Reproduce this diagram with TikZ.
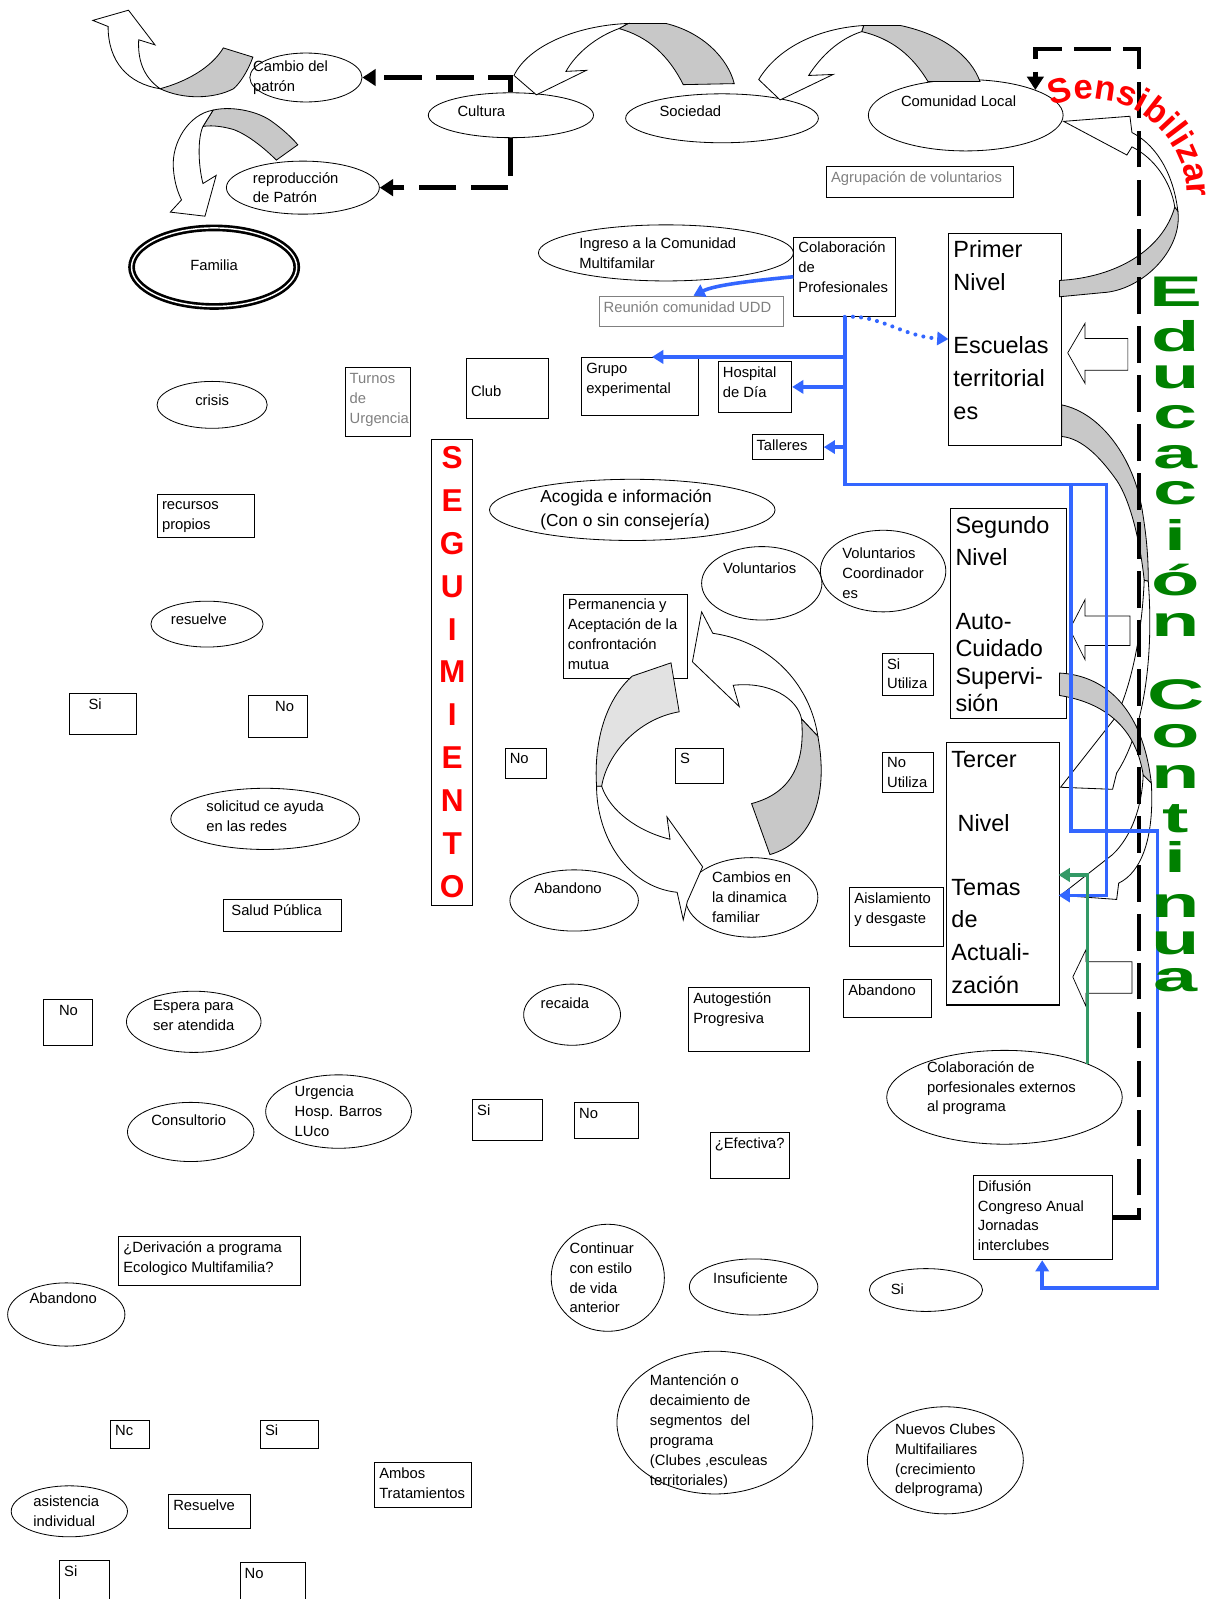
\documentclass[tikz,border=0pt]{standalone}
\usepackage{fontspec}
\usepackage{graphicx}
\setmainfont{Liberation Sans}
\usetikzlibrary{
  arrows.meta,
  calc,
  decorations.text,
  shapes.geometric,
}
\definecolor{azul}{RGB}{51,102,255}
\definecolor{verdeflecha}{RGB}{51,153,102}
\definecolor{verdeedu}{RGB}{0,128,0}
\definecolor{grisbanda}{RGB}{200,200,200}
\definecolor{grisclaro}{RGB}{226,226,226}
\definecolor{gristexto}{RGB}{128,128,128}
\newcommand{\txtfont}{\fontsize{14.5}{19.5}\selectfont}
\newcommand{\lvlfont}{\fontsize{23}{32}\selectfont}
\newcommand{\acofont}{\fontsize{17}{23}\selectfont}
\newcommand{\segfont}{\fontsize{31}{42}\selectfont\bfseries}
\newcommand{\edufont}{\fontsize{42}{42}\selectfont\bfseries}
\newcommand{\sensfont}{\fontsize{34}{34}\selectfont\bfseries}
\tikzset{
  box/.style={draw, rectangle, line width=0.8pt, inner sep=2pt, anchor=north west, font=\txtfont},
  fixsize/.style 2 args={
    execute at begin node={\begin{minipage}[c][#2pt][t]{#1pt}\raggedright\leftskip=2.5pt\strut},
    execute at end node={\end{minipage}},
  },
  level/.style={box, line width=1pt, font=\lvlfont},
  oval/.style={draw, ellipse, line width=0.8pt, inner sep=0pt},
  txt/.style={font=\txtfont, align=left, inner sep=0pt},
  dashline/.style={line width=5pt, dash pattern=on 37pt off 14pt, -{Triangle[length=13pt,width=16pt]}},
  blueline/.style={azul, line width=3.5pt, -{Triangle[length=11pt,width=13pt]}},
  greenline/.style={verdeflecha, line width=3pt, -{Triangle[length=11pt,width=13pt]}},
  ribbon/.style={draw=black, line width=0.8pt, fill=white},
  ribbongray/.style={ribbon, fill=grisbanda},
  blockarrow/.style={draw=black, line width=0.7pt, fill=white},
  letteredu/.style={text=verdeedu, font=\edufont, anchor=base, inner sep=0pt},
}
\begin{document}
\begin{tikzpicture}[x=1pt, y=-1pt]
\fill[white] (0,0) rectangle (1189,1568);
\useasboundingbox (0,0) rectangle (1189,1568);

\node[oval, minimum width=110pt, minimum height=48pt, label={[txt,xshift=-15pt]center:{Cambio del\\patrón}}] (cambio) at (300,76) {};
\node[oval, minimum width=162pt, minimum height=44pt, label={[txt,xshift=-29pt,yshift=4pt]center:Cultura}] (cultura) at (501,113) {};
\node[oval, minimum width=189pt, minimum height=48pt, label={[txt,xshift=-31pt,yshift=7pt]center:Sociedad}] (sociedad) at (708,116) {};
\node[oval, minimum width=191pt, minimum height=70pt, label={[txt,xshift=-7pt,yshift=14pt]center:Comunidad Local}] (comunidad) at (947,113) {};
\node[oval, minimum width=150pt, minimum height=52pt, label={[txt,xshift=-7pt]center:{reproducción\\de Patrón}}] (reprod) at (297,184) {};
\node[oval, minimum width=162pt, minimum height=77pt, line width=2.6pt, double, double distance=1.4pt, label={[txt,yshift=2pt]center:Familia}] (familia) at (210,262) {};
\node[oval, minimum width=250pt, minimum height=55pt, label={[txt,xshift=-8pt]center:{Ingreso a la Comunidad\\Multifamilar}}] (ingreso) at (653,248) {};
\node[oval, minimum width=108pt, minimum height=46pt, label={[txt,yshift=5pt]center:crisis}] (crisis) at (208,397) {};
\node[oval, minimum width=110pt, minimum height=45pt, label={[txt,xshift=-8pt,yshift=5pt]center:resuelve}] (resuelve) at (203,612) {};
\node[oval, minimum width=185pt, minimum height=60pt, label={[txt,yshift=3pt]center:{solicitud ce ayuda\\en las redes}}] (solicitud) at (260,803) {};
\node[oval, minimum width=132pt, minimum height=60pt, label={[txt,yshift=6pt]center:{Espera para\\ser atendida}}] (espera) at (190,1002) {};
\node[oval, minimum width=124pt, minimum height=58pt, label={[txt,xshift=-2pt,yshift=12pt]center:Consultorio}] (consultorio) at (187,1110) {};
\node[oval, minimum width=143pt, minimum height=72pt, label={[txt]center:{Urgencia\\Hosp. Barros\\LUco}}] (urgencia) at (332,1090) {};
\node[oval, minimum width=115pt, minimum height=62pt, label={[txt,xshift=-3pt,yshift=16pt]center:Abandono}] (abandono1) at (65,1289) {};
\node[oval, minimum width=114pt, minimum height=50pt, label={[txt,xshift=-3pt]center:{asistencia\\individual}}] (asistencia) at (68,1482) {};
\node[oval, minimum width=280pt, minimum height=60pt, label={[txt,font=\acofont,xshift=-6pt]center:{Acogida e información\\(Con o sin consejería)}}] (acogida) at (620,500) {};
\node[oval, minimum width=118pt, minimum height=72pt, label={[txt,xshift=-2pt,yshift=15pt]center:Voluntarios}] (voluntarios) at (747,572) {};
\node[oval, minimum width=123pt, minimum height=80pt, label={[txt,yshift=-2pt]center:{Voluntarios\\Coordinador\\es}}] (coordinadores) at (866,560) {};
\node[oval, minimum width=126pt, minimum height=60pt, label={[txt,xshift=-6pt,yshift=12pt]center:Abandono}] (abandono2) at (563,883) {};
\node[oval, minimum width=130pt, minimum height=78pt, label={[txt]center:{Cambios en\\la dinamica\\familiar}}] (cambios) at (737,880) {};
\node[oval, minimum width=95pt, minimum height=60pt, label={[txt,xshift=-7pt,yshift=11pt]center:recaida}] (recaida) at (561,995) {};
\node[oval, minimum width=111pt, minimum height=105pt, label={[txt,xshift=-6pt]center:{Continuar\\con estilo\\de vida\\anterior}}] (continuar) at (596,1253) {};
\node[oval, minimum width=126pt, minimum height=55pt, label={[txt,xshift=-3pt,yshift=9pt]center:Insuficiente}] (insuficiente) at (739,1262) {};
\node[oval, minimum width=111pt, minimum height=42pt, label={[txt,xshift=-28pt,yshift=1pt]center:Si}] (sielipse) at (908,1265) {};
\node[oval, minimum width=231pt, minimum height=92pt, label={[txt,xshift=-3pt,yshift=9pt]center:{Colaboración de\\porfesionales externos\\al programa}}] (colabext) at (985,1076) {};
\node[oval, minimum width=192pt, minimum height=140pt, label={[txt,xshift=-6pt,yshift=-9pt]center:{Mantención o\\decaimiento de\\segmentos\ \ del\\programa\\(Clubes ,esculeas\\territoriales)}}] (mantencion) at (701,1395) {};
\node[oval, minimum width=153pt, minimum height=105pt, label={[txt]center:{Nuevos Clubes\\Multifailiares\\(crecimiento\\delprograma)}}] (nuevos) at (927,1432) {};

\node[box, fixsize={179}{26}, text=gristexto] (agrupacion) at (810,163) {Agrupación de voluntarios};
\node[box, fixsize={96}{74}] (colab) at (778,232) {Colaboración\\de\\Profesionales};
\node[box, fixsize={177}{26}, draw=gristexto, text=gristexto] (reunion) at (587,290) {Reunión comunidad UDD};
\node[level, fixsize={106}{204}] (primer) at (930,228) {Primer\\Nivel\\[30pt]Escuelas\\territorial\\es};
\node[box, fixsize={110}{53}] (grupo) at (570,350) {Grupo\\experimental};
\node[box, fixsize={68}{46}] (hospital) at (704,354) {Hospital\\de Día};
\node[box, fixsize={66}{20}] (talleres) at (737,426) {Talleres};
\node[box, fixsize={76}{55}] (club) at (457,351) {\\[2pt]Club};
\node[box, fixsize={60}{64}, text=gristexto] (turnos) at (338,360) {Turnos\\de\\Urgencia};
\node[draw, rectangle, line width=0.9pt, anchor=north west, minimum width=40pt, minimum height=457pt, inner sep=0pt, align=center, text=red, font=\segfont] (seguimiento) at (423,430) {S\\E\\G\\U\\I\\M\\I\\E\\N\\T\\O};
\node[box, fixsize={91}{39}] (recursos) at (154,484) {recursos\\propios};
\node[box, fixsize={61}{36}] (si1) at (68,680) {\hspace*{14pt}Si};
\node[box, fixsize={54}{37}] (no1) at (243,682) {\hspace*{22pt}No};
\node[box, fixsize={111}{27}] (salud) at (219,882) {\hspace*{3pt}Salud Pública};
\node[box, fixsize={44}{41}] (no2) at (42,980) {\hspace*{11pt}No};
\node[box, fixsize={174}{44}] (derivacion) at (116,1212) {¿Derivación a programa\\Ecologico Multifamilia?};
\node[box, fixsize={34}{24}] (nc) at (108,1392) {Nc};
\node[box, fixsize={53}{24}] (si2) at (255,1392) {Si};
\node[box, fixsize={91}{40}] (ambos) at (367,1434) {Ambos\\Tratamientos};
\node[box, fixsize={76}{29}] (resuelve2) at (165,1465) {Resuelve};
\node[box, fixsize={45}{34}] (si3) at (58,1530) {Si};
\node[box, fixsize={60}{32}] (no3) at (235,1532) {No};
\node[box, fixsize={118}{79}] (permanencia) at (552,582) {Permanencia y\\Aceptación de la\\confrontación\\mutua};
\node[box, fixsize={36}{26}] (nocentro) at (495,733) {No};
\node[box, fixsize={43}{31}] (scentro) at (662,733) {S};
\node[box, fixsize={46}{38}] (siutiliza) at (865,640) {Si\\Utiliza};
\node[box, fixsize={46}{36}] (noutiliza) at (865,737) {No\\Utiliza};
\node[level, fixsize={109}{202}] (segundo) at (932,498) {Segundo\\Nivel\\[30pt]Auto-\\[-5pt]Cuidado\\[-5pt]Supervi-\\[-5pt]sión};
\node[level, fixsize={106}{253}] (tercer) at (928,728) {Tercer\\[30pt]\hspace*{6pt}Nivel\\[31pt]Temas\\de\\Actuali-\\zación};
\node[box, fixsize={88}{54}] (aislamiento) at (833,870) {Aislamiento\\y desgaste};
\node[box, fixsize={82}{33}] (abandono3) at (827,960) {Abandono};
\node[box, fixsize={114}{59}] (autogestion) at (675,968) {Autogestión\\Progresiva};
\node[box, fixsize={64}{36}] (si4) at (463,1078) {Si};
\node[box, fixsize={59}{31}] (no4) at (563,1081) {No};
\node[box, fixsize={74}{41}] (efectiva) at (696,1110) {¿Efectiva?};
\node[box, fixsize={132}{79}] (difusion) at (954,1152) {Difusión\\Congreso Anual\\Jornadas\\interclubes};

\filldraw[ribbongray] (157,87) .. controls (190,78) and (210,62) .. (219,47) -- (248,56) .. controls (243,70) and (235,82) .. (229,87) .. controls (210,97) and (180,98) .. (157,87) -- cycle;
\filldraw[ribbon] (91,20) -- (126,10) -- (152,44) -- (136,39) .. controls (135,58) and (140,75) .. (157,87) .. controls (125,82) and (106,60) .. (106,26) -- cycle;
\filldraw[ribbongray] (199,124) -- (209,108) .. controls (225,104) and (250,108) .. (265,118) .. controls (278,127) and (288,137) .. (292,142) -- (271,157) .. controls (262,148) and (245,133) .. (229,127) .. controls (215,123) and (205,123) .. (199,124) -- cycle;
\filldraw[ribbon] (209,108) .. controls (185,112) and (168,140) .. (170,165) .. controls (171,180) and (175,190) .. (178,196) -- (167,208) -- (201,212) -- (212,172) -- (199,180) .. controls (194,160) and (194,135) .. (199,124) -- cycle;
\filldraw[ribbongray] (607,28) -- (616,23) -- (653,23) .. controls (690,32) and (714,58) .. (720,82) -- (670,83) .. controls (656,55) and (636,36) .. (607,28) -- cycle;
\filldraw[ribbon] (504,74) .. controls (518,45) and (565,25) .. (616,23) -- (607,28) .. controls (585,36) and (565,52) .. (555,70) -- (575,69) -- (526,93) -- cycle;
\filldraw[ribbongray] (845,31) -- (847,25) -- (883,25) .. controls (925,34) and (952,55) .. (961,80) -- (910,80) .. controls (895,55) and (875,38) .. (845,31) -- cycle;
\filldraw[ribbon] (744,78) .. controls (762,48) and (800,28) .. (847,25) -- (845,31) .. controls (823,38) and (805,55) .. (793,74) -- (817,73) -- (765,98) -- cycle;

\filldraw[ribbongray] (1039,275) .. controls (1095,272) and (1140,245) .. (1152,203) -- (1155,207) .. controls (1160,245) and (1120,285) .. (1081,287) -- (1039,291) -- cycle;
\filldraw[ribbon] (1043,119) -- (1108,114) -- (1110,130) .. controls (1130,140) and (1150,165) .. (1155,207) -- (1152,203) .. controls (1148,178) and (1132,155) .. (1110,144) -- (1105,152) -- cycle;
\filldraw[ribbongray] (1041,397) .. controls (1080,405) and (1112,450) .. (1120,500) .. controls (1125,530) and (1126,550) .. (1126,570) -- (1122,569) .. controls (1118,530) and (1108,490) .. (1095,471) .. controls (1080,450) and (1062,430) .. (1041,428) -- cycle;
\filldraw[ribbon] (1122,569) -- (1126,570) .. controls (1132,650) and (1120,720) .. (1095,758) -- (1091,774) -- (1040,772) -- (1095,702) .. controls (1110,670) and (1120,620) .. (1122,569) -- cycle;
\filldraw[ribbongray] (1039,660) .. controls (1080,662) and (1120,690) .. (1129,768) -- (1121,760) .. controls (1115,720) and (1090,690) .. (1039,682) -- cycle;
\filldraw[ribbon] (1121,760) -- (1129,768) .. controls (1132,820) and (1120,855) .. (1097,866) -- (1095,882) -- (1040,878) -- (1091,838) .. controls (1110,820) and (1120,790) .. (1121,760) -- cycle;

\filldraw[blockarrow] (1047,346) -- (1064,317) -- (1064,332) -- (1106,332) -- (1106,363) -- (1064,363) -- (1064,376) -- cycle;
\filldraw[blockarrow] (1049,617) -- (1064,588) -- (1064,604) -- (1108,604) -- (1108,633) -- (1064,633) -- (1064,647) -- cycle;
\filldraw[blockarrow] (1052,958) -- (1065,931) -- (1065,943) -- (1110,943) -- (1110,974) -- (1065,974) -- (1065,987) -- cycle;

\filldraw[ribbon, fill=grisclaro] (620,663) -- (658,650) -- (666,698) .. controls (625,705) and (595,740) .. (590,771) -- (585,771) .. controls (582,725) and (595,685) .. (620,663) -- cycle;
\filldraw[ribbon] (585,771) .. controls (585,820) and (615,870) .. (664,875) -- (670,902) -- (674,884) -- (689,850) -- (654,801) -- (657,823) .. controls (625,815) and (598,795) .. (590,771) -- cycle;
\filldraw[ribbon] (688,600) -- (679,649) -- (725,693) -- (719,672) .. controls (755,668) and (782,685) .. (786,705) -- (802,722) .. controls (795,675) and (760,630) .. (699,621) -- cycle;
\filldraw[ribbongray] (786,705) .. controls (790,750) and (775,778) .. (737,788) -- (755,838) .. controls (800,825) and (812,775) .. (802,722) -- cycle;

\coordinate (reuniontop) at (680,290);
\coordinate (codo1) at (1085,475);
\coordinate (codo2) at (1050,475);
\coordinate (codo3) at (1135,815);
\coordinate (codo4) at (1022,1263);
\coordinate (llegadaazul) at (1038,878);
\coordinate (llegadaverde) at (1038,858);
\coordinate (dashtop) at (1117,48);

\draw[dashline] (cultura.north) |- (cambio.east);
\draw[dashline] (cultura.south) |- (reprod.east);
\draw[dashline, line width=4.5pt, dash pattern=on 36pt off 12pt] (difusion.east) -| (dashtop) -| (comunidad.20);

\draw[blueline] (colab.west) .. controls (730,276) and (700,280) .. (reuniontop);
\draw[blueline, line width=4pt, dash pattern=on 0pt off 8pt, line cap=round] (colab.south) .. controls (862,308) and (885,330) .. (primer.west);
\draw[blueline] (colab.south |- grupo.north) -- ($(grupo.north)+(12,0)$);
\draw[blueline] (colab.south |- hospital.east) -- (hospital.east);
\draw[blueline] (colab.south |- talleres.east) -- (talleres.east);
\draw[blueline] (colab.south) |- (codo1) |- (llegadaazul);
\draw[blueline] (codo2) |- (codo3) |- (codo4) -- (difusion.south -| codo4);
\draw[greenline] (colabext.22) |- (llegadaverde);

\foreach \ch/\yy [count=\i] in {E/301, d/345, u/381, c/420, a/459, c/495, i/540, ó/584, n/624, C/696, o/733, n/773, t/816, i/856, n/900, u/936, a/972}
  \node[letteredu] (edu\i) at (1153,\yy) {\scalebox{1.85}[1]{\ch}};

\path[decorate, decoration={text along path, text={|\sensfont|Sensibilizar}, text color=red, text align=center}]
  (1068,193) ++(-114:96) arc[start angle=-114, end angle=2, radius=96];

\end{tikzpicture}
\end{document}
